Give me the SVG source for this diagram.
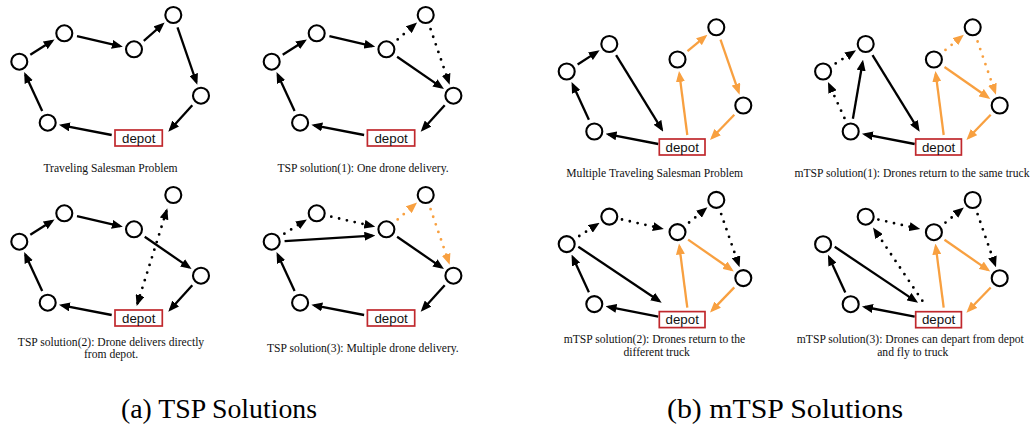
<svg xmlns="http://www.w3.org/2000/svg" width="1035" height="425" viewBox="0 0 1035 425">
<style>
.nd{fill:#fff;stroke:#000;stroke-width:2.1}
.dp rect{fill:#fff;stroke:#c0282d;stroke-width:1.7}
.dp text{font-family:"Liberation Sans",Arial,sans-serif;font-size:13.3px;fill:#111;text-anchor:middle}
.e{stroke:#000;stroke-width:2.3;fill:none;marker-end:url(#ah)}
.o{stroke:#f8a040;marker-end:url(#aho)}
.d{stroke-dasharray:0 8;stroke-linecap:round;stroke-width:2.8}
.cap{font-family:"Liberation Serif","Times New Roman",serif;font-size:11.6px;fill:#111;text-anchor:middle}
.sub{font-family:"Liberation Serif","Times New Roman",serif;font-size:28px;fill:#000;text-anchor:middle}
</style>
<defs>
<marker id="ah" viewBox="0 0 11 9" refX="8" refY="4.5" markerWidth="11" markerHeight="9" markerUnits="userSpaceOnUse" orient="auto-start-reverse"><path d="M0,0 L11,4.5 L0,9 z" fill="#000"/></marker>
<marker id="aho" viewBox="0 0 11 9" refX="8" refY="4.5" markerWidth="11" markerHeight="9" markerUnits="userSpaceOnUse" orient="auto-start-reverse"><path d="M0,0 L11,4.5 L0,9 z" fill="#f8a040"/></marker>
</defs>
<rect width="1035" height="425" fill="#fff"/>

<!-- Panel 1 -->
<g id="panel1">
<g id="p1-connectors">
<line class="e" x1="30.3" y1="54.8" x2="52" y2="41"/>
<line class="e" x1="77" y1="36.2" x2="119.9" y2="46.1"/>
<line class="e" x1="143.8" y1="40.8" x2="162.4" y2="24.5"/>
<line class="e" x1="177.5" y1="27.3" x2="196.3" y2="82"/>
<line class="e" x1="192.3" y1="105.3" x2="170.3" y2="129.5"/>
<line class="e" x1="111.7" y1="135" x2="61.9" y2="125.4"/>
<line class="e" x1="42.2" y1="110.9" x2="25.4" y2="74.8"/>
</g>
<g id="p1-a"><circle class="nd" cx="19.3" cy="61.7" r="8"/></g>
<g id="p1-b"><circle class="nd" cx="64.3" cy="33.3" r="8"/></g>
<g id="p1-c"><circle class="nd" cx="134" cy="49.3" r="8"/></g>
<g id="p1-d"><circle class="nd" cx="173.3" cy="15" r="8"/></g>
<g id="p1-e"><circle class="nd" cx="201" cy="95.7" r="8"/></g>
<g id="p1-f"><circle class="nd" cx="47.7" cy="122.7" r="8"/></g>
<g id="p1-depot" class="dp"><rect x="115" y="130" width="47.3" height="16"/><text x="138.7" y="142.6">depot</text></g>
<text class="cap" x="110.5" y="171.5">Traveling Salesman Problem</text>
</g>

<!-- Panel 2 -->
<g id="panel2" transform="translate(252.4,0)">
<g id="p2-connectors">
<line class="e" x1="30.3" y1="54.8" x2="52" y2="41"/>
<line class="e" x1="77" y1="36.2" x2="119.9" y2="46.1"/>
<line class="e d" x1="145.3" y1="39.4" x2="162.4" y2="24.5"/>
<line class="e d" x1="178.2" y1="29.2" x2="196.3" y2="82"/>
<line class="e" x1="144.7" y1="56.7" x2="189.1" y2="87.4"/>
<line class="e" x1="192.3" y1="105.3" x2="170.3" y2="129.5"/>
<line class="e" x1="111.7" y1="135" x2="61.9" y2="125.4"/>
<line class="e" x1="42.2" y1="110.9" x2="25.4" y2="74.8"/>
</g>
<g id="p2-a"><circle class="nd" cx="19.3" cy="61.7" r="8"/></g>
<g id="p2-b"><circle class="nd" cx="64.3" cy="33.3" r="8"/></g>
<g id="p2-c"><circle class="nd" cx="134" cy="49.3" r="8"/></g>
<g id="p2-d"><circle class="nd" cx="173.3" cy="15" r="8"/></g>
<g id="p2-e"><circle class="nd" cx="201" cy="95.7" r="8"/></g>
<g id="p2-f"><circle class="nd" cx="47.7" cy="122.7" r="8"/></g>
<g id="p2-depot" class="dp"><rect x="115" y="130" width="47.3" height="16"/><text x="138.7" y="142.6">depot</text></g>
<text class="cap" x="110.7" y="171.5">TSP solution(1): One drone delivery.</text>
</g>

<!-- Panel 3 -->
<g id="panel3" transform="translate(0,180)">
<g id="p3-connectors">
<line class="e" x1="30.3" y1="54.8" x2="52" y2="41"/>
<line class="e" x1="77" y1="36.2" x2="119.9" y2="46.1"/>
<line class="e" x1="144.7" y1="56.7" x2="189.1" y2="87.4"/>
<line class="e" x1="192.3" y1="105.3" x2="170.3" y2="129.5"/>
<line class="e" x1="111.7" y1="135" x2="61.9" y2="125.4"/>
<line class="e" x1="42.2" y1="110.9" x2="25.4" y2="74.8"/>
<line class="e d" style="marker-start:url(#ah)" x1="137.6" y1="123.1" x2="166.4" y2="31.2"/>
</g>
<g id="p3-a"><circle class="nd" cx="19.3" cy="61.7" r="8"/></g>
<g id="p3-b"><circle class="nd" cx="64.3" cy="33.3" r="8"/></g>
<g id="p3-c"><circle class="nd" cx="134" cy="49.3" r="8"/></g>
<g id="p3-d"><circle class="nd" cx="173.3" cy="15" r="8"/></g>
<g id="p3-e"><circle class="nd" cx="201" cy="95.7" r="8"/></g>
<g id="p3-f"><circle class="nd" cx="47.7" cy="122.7" r="8"/></g>
<g id="p3-depot" class="dp"><rect x="115" y="130" width="47.3" height="16"/><text x="138.7" y="142.6">depot</text></g>
<text class="cap" x="111" y="166">TSP solution(2): Drone delivers directly</text>
<text class="cap" x="111" y="178.3">from depot.</text>
</g>

<!-- Panel 4 -->
<g id="panel4" transform="translate(252.4,180)">
<g id="p4-connectors">
<line class="e d" x1="32" y1="53.7" x2="52" y2="41"/>
<line class="e d" x1="78.9" y1="36.7" x2="119.9" y2="46.1"/>
<line class="e" x1="32.2" y1="61.2" x2="120" y2="55.7"/>
<line class="e d o" x1="145.3" y1="39.4" x2="162.4" y2="24.5"/>
<line class="e d o" x1="178.2" y1="29.2" x2="196.3" y2="82"/>
<line class="e" x1="144.7" y1="56.7" x2="189.1" y2="87.4"/>
<line class="e" x1="192.3" y1="105.3" x2="170.3" y2="129.5"/>
<line class="e" x1="111.7" y1="135" x2="61.9" y2="125.4"/>
<line class="e" x1="42.2" y1="110.9" x2="25.4" y2="74.8"/>
</g>
<g id="p4-a"><circle class="nd" cx="19.3" cy="61.7" r="8"/></g>
<g id="p4-b"><circle class="nd" cx="64.3" cy="33.3" r="8"/></g>
<g id="p4-c"><circle class="nd" cx="134" cy="49.3" r="8"/></g>
<g id="p4-d"><circle class="nd" cx="173.3" cy="15" r="8"/></g>
<g id="p4-e"><circle class="nd" cx="201" cy="95.7" r="8"/></g>
<g id="p4-f"><circle class="nd" cx="47.7" cy="122.7" r="8"/></g>
<g id="p4-depot" class="dp"><rect x="115" y="130" width="47.3" height="16"/><text x="138.7" y="142.6">depot</text></g>
<text class="cap" x="110.5" y="171.5">TSP solution(3): Multiple drone delivery.</text>
</g>

<!-- Panel 5 -->
<g id="panel5">
<g id="p5-connectors">
<line class="e" x1="577.6" y1="64.5" x2="597.1" y2="51.9"/>
<line class="e" x1="616.1" y1="55.1" x2="661.7" y2="129.1"/>
<line class="e" x1="658.3" y1="144" x2="608.5" y2="134.3"/>
<line class="e" x1="588.9" y1="119.7" x2="572.8" y2="84.7"/>
<line class="e o" x1="687.3" y1="135" x2="679.4" y2="73.9"/>
<line class="e o" x1="687.5" y1="51.2" x2="705.1" y2="36.6"/>
<line class="e o" x1="720.5" y1="39.6" x2="738.6" y2="91.8"/>
<line class="e o" x1="734.3" y1="114.8" x2="712.1" y2="137.8"/>
</g>
<g id="p5-a"><circle class="nd" cx="566.7" cy="71.5" r="8"/></g>
<g id="p5-b"><circle class="nd" cx="609.3" cy="44" r="8"/></g>
<g id="p5-f"><circle class="nd" cx="594.3" cy="131.5" r="8"/></g>
<g id="p5-g"><circle class="nd" cx="677.5" cy="59.5" r="8"/></g>
<g id="p5-h"><circle class="nd" cx="716.3" cy="27.3" r="8"/></g>
<g id="p5-i"><circle class="nd" cx="743.3" cy="105.5" r="8"/></g>
<g id="p5-depot" class="dp"><rect x="659.3" y="139" width="45.7" height="16"/><text x="682.2" y="151.6">depot</text></g>
<text class="cap" x="654.7" y="176.8">Multiple Traveling Salesman Problem</text>
</g>

<!-- Panel 6 -->
<g id="panel6" transform="translate(256.4,0)">
<g id="p6-connectors">
<line class="e d" x1="588" y1="117.9" x2="572.8" y2="84.7"/>
<line class="e d" x1="579.3" y1="63.4" x2="597.1" y2="51.9"/>
<line class="e" x1="596.5" y1="118.7" x2="606.1" y2="62.7"/>
<line class="e" x1="616.1" y1="55.1" x2="661.7" y2="129.1"/>
<line class="e" x1="658.3" y1="144" x2="608.5" y2="134.3"/>
<line class="e o" x1="687.3" y1="135" x2="679.4" y2="73.9"/>
<line class="e d o" x1="689.1" y1="49.9" x2="705.1" y2="36.6"/>
<line class="e d o" x1="721.2" y1="41.5" x2="738.6" y2="91.8"/>
<line class="e o" x1="688.1" y1="67" x2="731.4" y2="97.2"/>
<line class="e o" x1="734.3" y1="114.8" x2="712.1" y2="137.8"/>
</g>
<g id="p6-a"><circle class="nd" cx="566.7" cy="71.5" r="8"/></g>
<g id="p6-b"><circle class="nd" cx="609.3" cy="44" r="8"/></g>
<g id="p6-f"><circle class="nd" cx="594.3" cy="131.5" r="8"/></g>
<g id="p6-g"><circle class="nd" cx="677.5" cy="59.5" r="8"/></g>
<g id="p6-h"><circle class="nd" cx="716.3" cy="27.3" r="8"/></g>
<g id="p6-i"><circle class="nd" cx="743.3" cy="105.5" r="8"/></g>
<g id="p6-depot" class="dp"><rect x="659.3" y="139" width="45.7" height="16"/><text x="682.2" y="151.6">depot</text></g>
<text class="cap" x="655.6" y="176.5">mTSP solution(1): Drones return to the same truck</text>
</g>

<!-- Panel 7 -->
<g id="panel7" transform="translate(0,172.6)">
<g id="p7-connectors">
<line class="e d" x1="579.3" y1="63.4" x2="597.1" y2="51.9"/>
<line class="e d" x1="622" y1="46.9" x2="660.9" y2="55.7"/>
<line class="e" x1="578.3" y1="74.1" x2="659.2" y2="128.4"/>
<line class="e" x1="658.3" y1="144" x2="608.5" y2="134.3"/>
<line class="e" x1="588.9" y1="119.7" x2="572.8" y2="84.7"/>
<line class="e o" x1="687.3" y1="135" x2="679.4" y2="73.9"/>
<line class="e d" x1="689.1" y1="49.9" x2="705.1" y2="36.6"/>
<line class="e d" x1="721.2" y1="41.5" x2="738.6" y2="91.8"/>
<line class="e o" x1="688.1" y1="67" x2="731.4" y2="97.2"/>
<line class="e o" x1="734.3" y1="114.8" x2="712.1" y2="137.8"/>
</g>
<g id="p7-a"><circle class="nd" cx="566.7" cy="71.5" r="8"/></g>
<g id="p7-b"><circle class="nd" cx="609.3" cy="44" r="8"/></g>
<g id="p7-f"><circle class="nd" cx="594.3" cy="131.5" r="8"/></g>
<g id="p7-g"><circle class="nd" cx="677.5" cy="59.5" r="8"/></g>
<g id="p7-h"><circle class="nd" cx="716.3" cy="27.3" r="8"/></g>
<g id="p7-i"><circle class="nd" cx="743.3" cy="105.5" r="8"/></g>
<g id="p7-depot" class="dp"><rect x="659.3" y="139" width="45.7" height="16"/><text x="682.2" y="151.6">depot</text></g>
<text class="cap" x="654.5" y="170.9">mTSP solution(2): Drones return to the</text>
<text class="cap" x="656.7" y="183.4">different truck</text>
</g>

<!-- Panel 8 -->
<g id="panel8" transform="translate(256.4,172.7)">
<g id="p8-connectors">
<line class="e d" x1="665.9" y1="128" x2="618.3" y2="57.3"/>
<line class="e d" x1="622" y1="46.9" x2="660.9" y2="55.7"/>
<line class="e d" x1="689.1" y1="49.9" x2="705.1" y2="36.6"/>
<line class="e d" x1="721.2" y1="41.5" x2="738.6" y2="91.8"/>
<line class="e" x1="578.3" y1="74.1" x2="659.2" y2="128.4"/>
<line class="e" x1="658.3" y1="144" x2="608.5" y2="134.3"/>
<line class="e" x1="588.9" y1="119.7" x2="572.8" y2="84.7"/>
<line class="e o" x1="687.3" y1="135" x2="679.4" y2="73.9"/>
<line class="e o" x1="688.1" y1="67" x2="731.4" y2="97.2"/>
<line class="e o" x1="734.3" y1="114.8" x2="712.1" y2="137.8"/>
</g>
<g id="p8-a"><circle class="nd" cx="566.7" cy="71.5" r="8"/></g>
<g id="p8-b"><circle class="nd" cx="609.3" cy="44" r="8"/></g>
<g id="p8-f"><circle class="nd" cx="594.3" cy="131.5" r="8"/></g>
<g id="p8-g"><circle class="nd" cx="677.5" cy="59.5" r="8"/></g>
<g id="p8-h"><circle class="nd" cx="716.3" cy="27.3" r="8"/></g>
<g id="p8-i"><circle class="nd" cx="743.3" cy="105.5" r="8"/></g>
<g id="p8-depot" class="dp"><rect x="659.3" y="139" width="45.7" height="16"/><text x="682.2" y="151.6">depot</text></g>
<text class="cap" x="653.9" y="170.8">mTSP solution(3): Drones can depart from depot</text>
<text class="cap" x="656.4" y="183.3">and fly to truck</text>
</g>

<text class="sub" x="219" y="418" textLength="196" lengthAdjust="spacingAndGlyphs">(a) TSP Solutions</text>
<text class="sub" x="785" y="418" textLength="236" lengthAdjust="spacingAndGlyphs">(b) mTSP Solutions</text>
</svg>
